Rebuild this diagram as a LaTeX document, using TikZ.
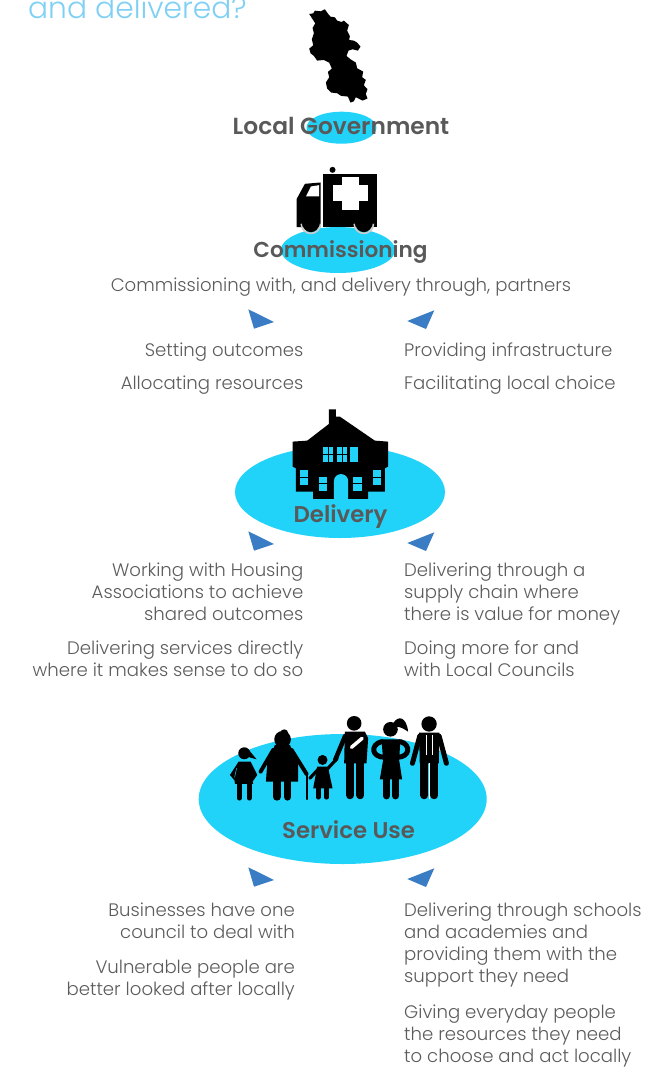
\documentclass[tikz,border=0pt]{standalone}
\usepackage{fontspec}
\setmainfont{Poppins}[UprightFont=* Light,BoldFont=* SemiBold]
\definecolor{cy}{HTML}{22D3F9}
\definecolor{tri}{HTML}{3A7DC4}
\definecolor{headc}{HTML}{595959}
\definecolor{bodyc}{HTML}{5C5C5C}
\definecolor{titlec}{HTML}{7FD0F5}
\tikzset{
  blob/.style={fill=cy,draw=none},
  marker/.style={fill=tri,draw=none},
  head/.style={font=\bfseries\fontsize{22.8}{24}\selectfont,text=headc,inner sep=0pt},
  bodyl/.style={font=\fontsize{18.1}{22}\selectfont,text=bodyc,inner sep=0pt,align=left,anchor=north west},
  bodyr/.style={font=\fontsize{18.1}{22}\selectfont,text=bodyc,inner sep=0pt,align=right,anchor=north east},
  ink/.style={fill=black,draw=none},
  limb/.style={draw=black,line cap=round,line join=round},
}
\newcommand{\markers}[1]{%
  \fill[marker] (248.3,#1-10.7) -- (274,#1+2) -- (254,#1+8.7) -- cycle;
  \fill[marker] (434.3,#1-9.7) -- (407.3,#1+1) -- (426,#1+9) -- cycle;
}
\begin{document}
\begin{tikzpicture}[x=1pt,y=-1pt]
\clip (0,0) rectangle (646,1068);
\fill[white] (0,0) rectangle (646,1068);
\node[anchor=base west,inner sep=0pt,text=titlec,font=\fontsize{29.7}{32}\selectfont] (title) at (28,18) {and delivered?};

% ellipses
\fill[blob] (341.5,127.7) ellipse [x radius=35,y radius=16];
\fill[blob] (338,250) ellipse [x radius=57,y radius=23];
\fill[blob] (340,492) ellipse [x radius=105,y radius=46];
\fill[blob] (342.7,799) ellipse [x radius=144,y radius=65];

% map
\begin{scope}[shift={(200,0)},x=0.333pt,y=-0.333pt]
\fill[ink] (328,42) -- (340,40) -- (345,32) -- (362,34) -- (375,28) -- (385,42) -- (392,50) -- (405,52) -- (412,62) -- (425,66) -- (432,62) -- (447,75) -- (442,92) -- (450,108) -- (448,120) -- (462,122) -- (472,128) -- (482,140) -- (474,152) -- (458,148) -- (446,152) -- (440,168) -- (452,178) -- (468,188) -- (472,205) -- (490,215) -- (487,232) -- (498,240) -- (492,256) -- (503,268) -- (498,282) -- (503,296) -- (488,302) -- (468,292) -- (462,304) -- (452,308) -- (444,290) -- (424,288) -- (412,280) -- (394,278) -- (382,266) -- (378,248) -- (388,232) -- (384,216) -- (396,206) -- (388,188) -- (372,180) -- (352,182) -- (342,168) -- (332,160) -- (328,146) -- (340,136) -- (336,118) -- (342,100) -- (338,84) -- (346,70) -- cycle;
% ambulance
\fill[ink] (398,510) circle [radius=9];
\fill[ink] (368,522) rectangle (533,682);
\fill[ink] (290,598) -- (315,552) -- (362,548) -- (362,682) -- (290,682) -- cycle;
\fill[white] (318,590) -- (333,560) -- (358,556) -- (358,590) -- cycle;
\fill[white] (425,532) rectangle (478,632);
\fill[white] (400,555) rectangle (505,605);
\draw[white!80!black,line width=1.6pt] (304,672) arc [start angle=180,end angle=0,radius=29];
\draw[white!80!black,line width=1.6pt] (463,672) arc [start angle=180,end angle=0,radius=29];
\fill[ink] (333,672) circle [radius=25];
\fill[ink] (492,672) circle [radius=25];
\end{scope}

% house
\begin{scope}[shift={(220,400)},x=0.333pt,y=-0.333pt]
\fill[ink] (327,28) -- (348,28) -- (348,50) -- (360,50) -- (465,122) -- (505,125) -- (505,200) -- (495,205) -- (495,275) -- (445,275) -- (445,297) -- (280,297) -- (280,275) -- (228,275) -- (228,205) -- (218,200) -- (218,125) -- (262,122) -- (327,72) -- cycle;
\foreach \a/\b in {310/340,352/382,390/415}{\fill[cy] (\a,140) rectangle (\b,187);}
\foreach \a/\b in {240/265,458/483}{\fill[cy] (\a,210) rectangle (\b,255);}
\foreach \a/\b in {298/322,400/425}{\fill[cy] (\a,230) rectangle (\b,272);}
\fill[cy] (342,297) -- (342,245) .. controls (342,215) and (385,215) .. (385,245) -- (385,297) -- cycle;
\draw[black,line width=0.9pt] (235,232) -- (270,232) (453,232) -- (488,232);
\draw[black,line width=0.9pt] (295,251) -- (325,251) (397,251) -- (428,251);
\draw[black,line width=0.7pt] (325,135) -- (325,190) (367,135) -- (367,190) (305,163) -- (385,163);
\end{scope}

% people
\begin{scope}[shift={(190,700)},x=0.333pt,y=-0.333pt]
% child 1
\fill[ink] (163,160) circle [radius=18];
\fill[ink] (175,148) -- (200,178) -- (178,172) -- cycle;
\fill[ink] (146,185) -- (182,185) -- (202,225) -- (188,245) -- (190,252) -- (135,252) -- (134,242) -- (120,225) -- cycle;
\draw[limb,line width=4.6pt] (148,245) -- (148,295) (178,245) -- (178,295);
\draw[cy,line width=0.5pt] (140,205) -- (134,232);
% grandma
\fill[ink] (278,118) circle [radius=25];
\fill[ink] (283,100) circle [radius=12];
\fill[ink] (255,135) -- (300,135) -- (325,190) -- (325,245) -- (228,245) -- (232,190) -- cycle;
\draw[limb,line width=4pt] (250,150) -- (212,215) (305,150) -- (350,222);
\draw[limb,line width=7.5pt] (261,245) -- (261,291) (293,245) -- (293,291);
\draw[limb,line width=1.5pt] (352,225) -- (352,298);
% child 2
\fill[ink] (398,180) circle [radius=15];
\fill[ink] (382,200) -- (414,200) -- (428,265) -- (370,265) -- cycle;
\draw[limb,line width=3.2pt] (385,208) -- (360,235) (412,208) -- (442,175);
\draw[limb,line width=4.6pt] (385,265) -- (385,292) (410,265) -- (410,292);
% man 1
\fill[ink] (493,70) circle [radius=22];
\fill[ink] (465,95) -- (525,95) -- (535,115) -- (530,190) -- (463,190) -- cycle;
\draw[limb,line width=4.6pt] (466,108) -- (436,180);
\draw[limb,line width=8pt] (481,190) -- (481,286) (512,190) -- (512,286);
\draw[white,line width=3.5pt,line cap=round] (485,142) -- (517,115);
% woman
\fill[ink] (602,88) circle [radius=22];
\fill[ink] (610,70) .. controls (625,45) and (650,50) .. (655,95) .. controls (640,85) and (630,80) .. (618,80) -- cycle;
\fill[ink] (575,118) -- (632,118) -- (628,180) -- (637,238) -- (570,238) -- (580,180) -- cycle;
\draw[limb,line width=5pt] (575,125) .. controls (540,135) and (545,172) .. (585,172) (632,125) .. controls (665,135) and (660,172) .. (622,172);
\draw[limb,line width=7pt] (590,238) -- (590,288) (617,238) -- (617,288);
% man 2
\fill[ink] (718,72) circle [radius=23];
\fill[ink] (688,98) -- (749,98) -- (747,190) -- (690,190) -- cycle;
\draw[limb,line width=5pt] (690,108) -- (668,190) (748,108) -- (770,190);
\draw[limb,line width=8pt] (704,190) -- (704,286) (734,190) -- (734,286);
\draw[white,line width=0.7pt] (709,105) -- (709,165) (727,105) -- (727,165);
\draw[white,line width=0.7pt] (719,190) -- (719,296);
\end{scope}

% headings
\node[head,font=\bfseries\fontsize{23.3}{24}\selectfont] (lg) at (341,125.5) {Local Government};
\node[head,font=\bfseries\fontsize{21.6}{24}\selectfont] (com) at (340.5,251.5) {Commissioning};
\node[head] (del) at (340.5,516.5) {Delivery};
\node[head] (su) at (348.5,829.5) {Service Use};

\node[inner sep=0pt,text=bodyc,font=\fontsize{18.1}{22}\selectfont] (cw) at (341,287.5) {Commissioning with, and delivery through, partners};

\markers{320}
\markers{542}
\markers{878}

\node[bodyr] (a1) at (303.5,343) {Setting outcomes};
\node[bodyr] (a2) at (303.5,376) {Allocating resources};
\node[bodyl] (b1) at (404,343) {Providing infrastructure};
\node[bodyl] (b2) at (404,376) {Facilitating local choice};

\node[bodyr] (c1) at (303.5,562.5) {Working with Housing\\Associations to achieve\\shared outcomes};
\node[bodyr] (c2) at (303.5,640.5) {Delivering services directly\\where it makes sense to do so};
\node[bodyl] (d1) at (404,562.5) {Delivering through a\\supply chain where\\there is value for money};
\node[bodyl] (d2) at (404,640.5) {Doing more for and\\with Local Councils};

\node[bodyr] (e1) at (295,902.5) {Businesses have one\\council to deal with};
\node[bodyr] (e2) at (295,959.5) {Vulnerable people are\\better looked after locally};
\node[bodyl] (f1) at (404,902.5) {Delivering through schools\\and academies and\\providing them with the\\support they need};
\node[bodyl] (f2) at (404,1004.5) {Giving everyday people\\the resources they need\\to choose and act locally};
\end{tikzpicture}
\end{document}
